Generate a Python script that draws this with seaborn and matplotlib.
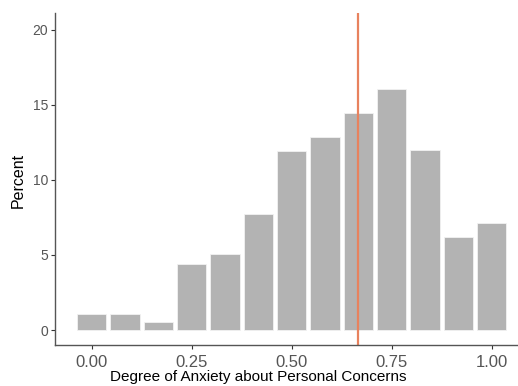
import numpy as np
import pandas as pd
import seaborn as sns
import matplotlib.pyplot as plt

# percent of respondents per bin (bins centred at 0, 1/12, ..., 1)
bin_centers = [i / 12 for i in range(13)]
percent = [1.07, 1.07, 0.55, 4.38, 5.07, 7.71, 11.89, 12.82, 14.42, 16.04, 12.02, 6.18, 7.11]
mean_anxiety = 0.665
x_ticks = [0.00, 0.25, 0.50, 0.75, 1.00]
x_ticklabels = ['0.00', '0.25', '0.50', '0.75', '1.00']
y_ticks = [0, 5, 10, 15, 20]

sns.set_style('white')
plt.rcParams['font.family'] = ['Liberation Sans', 'DejaVu Sans']

df = pd.DataFrame({'anxiety': bin_centers, 'percent': percent})

fig = plt.figure(figsize=(5.18, 3.86), dpi=100)
ax = fig.add_axes([0.106, 0.106, 0.894, 0.860])

edges = list(np.arange(-0.5, 13.5) / 12)
sns.histplot(data=df, x='anxiety', weights='percent', bins=edges, shrink=0.88,
             color='#b3b3b3', alpha=1, edgecolor='#f2f2f2', linewidth=0.6, ax=ax)
ax.axvline(mean_anxiety, color='#e8825e', linewidth=1.6)

ax.set_xlim(-0.092, 1.066)
ax.set_ylim(-1.0, 21.1)
ax.set_xticks(x_ticks)
ax.set_xticklabels(x_ticklabels)
ax.set_yticks(y_ticks)
ax.tick_params(axis='x', labelsize=12, length=3, width=0.8, pad=4)
ax.tick_params(axis='y', labelsize=10, length=3, width=0.8, pad=2)
ax.tick_params(axis='both', labelcolor='#555555', color='#333333', bottom=True, left=True)

for side in ['top', 'right']:
    ax.spines[side].set_visible(False)
for side in ['left', 'bottom']:
    ax.spines[side].set_color('#555555')
    ax.spines[side].set_linewidth(1.0)

ax.set_xlabel('Degree of Anxiety about Personal Concerns', fontsize=11, color='black', va='top')
ax.xaxis.set_label_coords(0.44, -0.074)
ax.set_ylabel('Percent', fontsize=11.5, color='black')
ax.yaxis.set_label_coords(-0.063, 0.497)

plt.savefig('out.png', dpi=100)
